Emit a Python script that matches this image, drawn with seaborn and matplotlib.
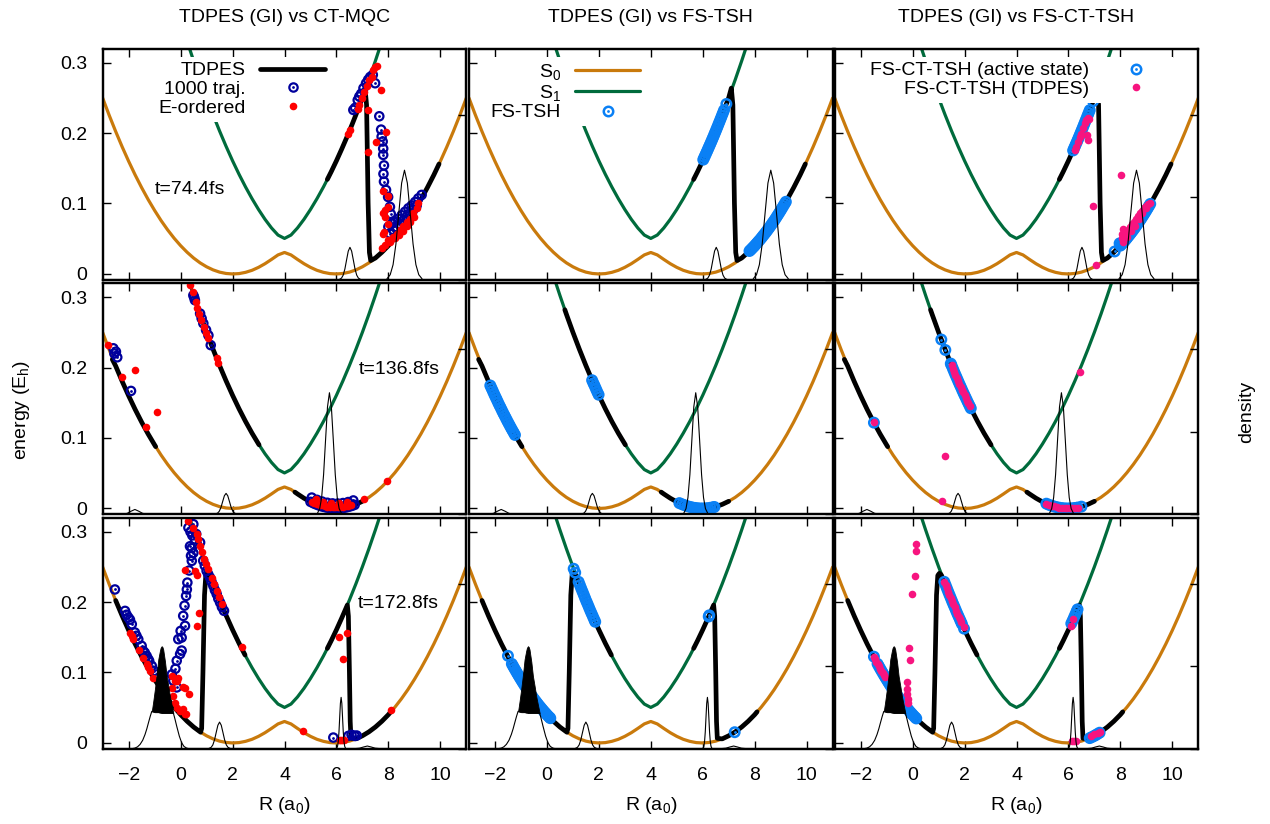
import matplotlib
matplotlib.use("Agg")
import matplotlib.pyplot as plt
import seaborn as sns
from matplotlib.lines import Line2D
from matplotlib.legend_handler import HandlerTuple

sns.set_style("ticks")
plt.rcParams['font.family'] = ['Liberation Sans', 'DejaVu Sans']
plt.rcParams['mathtext.default'] = 'regular'
for key in ['axes.edgecolor', 'xtick.color', 'ytick.color', 'text.color', 'axes.labelcolor']:
    plt.rcParams[key] = 'black'

# ---------------- potential energy surfaces (E_h) ----------------
S0_R = [-3.0, -2.75, -2.5, -2.25, -2.0, -1.75, -1.5, -1.25, -1.0, -0.75,
        -0.5, -0.25, 0.0, 0.25, 0.5, 0.75, 1.0, 1.25, 1.5, 1.75,
        2.0, 2.25, 2.5, 2.75, 3.0, 3.25, 3.5, 3.75, 4.0, 4.25,
        4.5, 4.75, 5.0, 5.25, 5.5, 5.75, 6.0, 6.25, 6.5, 6.75,
        7.0, 7.25, 7.5, 7.75, 8.0, 8.25, 8.5, 8.75, 9.0, 9.25,
        9.5, 9.75, 10.0, 10.25, 10.5, 10.75, 11.0]
S0_E = [0.2498, 0.2254, 0.2023, 0.1804, 0.1598, 0.1404, 0.1223, 0.1054, 0.0898, 0.0753,
        0.0622, 0.0503, 0.0397, 0.0303, 0.0221, 0.0152, 0.0096, 0.0052, 0.0020, 0.0001,
        -0.0006, -0.0001, 0.0017, 0.0046, 0.0088, 0.0140, 0.0201, 0.0265, 0.0300, 0.0265,
        0.0201, 0.0140, 0.0088, 0.0046, 0.0017, -0.0001, -0.0006, 0.0001, 0.0020, 0.0052,
        0.0096, 0.0152, 0.0221, 0.0303, 0.0397, 0.0503, 0.0622, 0.0753, 0.0898, 0.1054,
        0.1223, 0.1404, 0.1598, 0.1804, 0.2023, 0.2254, 0.2498]
S1_R = [0.0, 0.25, 0.5, 0.75, 1.0, 1.25, 1.5, 1.75, 2.0, 2.25,
        2.5, 2.75, 3.0, 3.25, 3.5, 3.75, 4.0, 4.25, 4.5, 4.75,
        5.0, 5.25, 5.5, 5.75, 6.0, 6.25, 6.5, 6.75, 7.0, 7.25,
        7.5, 7.75, 8.0]
S1_E = [0.3603, 0.3309, 0.3029, 0.2760, 0.2504, 0.2261, 0.2030, 0.1812, 0.1606, 0.1413,
        0.1233, 0.1066, 0.0912, 0.0772, 0.0649, 0.0548, 0.0500, 0.0548, 0.0649, 0.0772,
        0.0912, 0.1066, 0.1233, 0.1413, 0.1606, 0.1812, 0.2030, 0.2261, 0.2504, 0.2760,
        0.3029, 0.3309, 0.3603]

# ---------------- exact TDPES (gauge-invariant part) ----------------
tdpes_74_R = [5.65, 5.80, 6.00, 6.20, 6.40, 6.60, 6.80, 7.00, 7.10, 7.16,
              7.22, 7.27, 7.32, 7.50, 7.75, 8.00, 8.25, 8.50, 8.75, 9.00,
              9.25, 9.50, 9.75, 9.95]
tdpes_74_E = [0.1341, 0.1451, 0.1606, 0.1770, 0.1941, 0.2121, 0.2308, 0.2504, 0.2640, 0.2400,
              0.1000, 0.0300, 0.0185, 0.0221, 0.0303, 0.0397, 0.0503, 0.0622, 0.0753, 0.0898,
              0.1054, 0.1223, 0.1404, 0.1560]

tdpes_137a_R = [-2.63, -2.50, -2.25, -2.00, -1.75, -1.50, -1.25, -1.00, -0.96]
tdpes_137a_E = [0.2117, 0.2023, 0.1804, 0.1598, 0.1404, 0.1223, 0.1054, 0.0898, 0.0874]
tdpes_137b_R = [0.69, 0.75, 1.00, 1.25, 1.50, 1.75, 2.00, 2.25, 2.50, 2.75, 3.02]
tdpes_137b_E = [0.2824, 0.2760, 0.2504, 0.2261, 0.2030, 0.1812, 0.1606, 0.1413, 0.1233, 0.1066, 0.0900]
tdpes_137c_R = [4.40, 4.50, 4.75, 5.00, 5.25, 5.50, 5.75, 6.00, 6.25, 6.50, 6.75, 7.00]
tdpes_137c_E = [0.0227, 0.0201, 0.0140, 0.0088, 0.0046, 0.0017, -0.0001, -0.0006, 0.0001, 0.0020, 0.0052, 0.0096]

tdpes_173a_R = [-2.50, -2.25, -2.00, -1.75, -1.50, -1.25, -1.00, -0.75, -0.50, -0.25,
                0.00, 0.25, 0.50, 0.77, 0.81, 0.86, 0.92, 0.97, 1.03, 1.10,
                1.25, 1.50, 1.75, 2.00, 2.25, 2.48]
tdpes_173a_E = [0.2023, 0.1804, 0.1598, 0.1404, 0.1223, 0.1054, 0.0898, 0.0753, 0.0622, 0.0503,
                0.0397, 0.0303, 0.0221, 0.0147, 0.0200, 0.1000, 0.2100, 0.2380, 0.2410, 0.2390,
                0.2261, 0.2030, 0.1812, 0.1606, 0.1413, 0.1247]
tdpes_173b_R = [5.65, 5.80, 6.00, 6.20, 6.42, 6.46, 6.50, 6.53, 6.56, 6.75,
                7.00, 7.25, 7.50, 7.75, 8.00, 8.09]
tdpes_173b_E = [0.1341, 0.1451, 0.1606, 0.1770, 0.1958, 0.1800, 0.1000, 0.0300, 0.0060, 0.0052,
                0.0096, 0.0152, 0.0221, 0.0303, 0.0397, 0.0437]

# ---------------- nuclear densities (arb. units) ----------------
dens_74_R = [-3.0, 6.10, 6.13, 6.195, 6.26, 6.325, 6.39, 6.455, 6.52, 6.585,
             6.65, 6.715, 6.78, 6.845, 6.91, 6.94,
             7.93, 7.96, 8.07, 8.18, 8.29, 8.40, 8.51, 8.62, 8.73, 8.84,
             8.95, 9.06, 9.17, 9.28, 9.31, 11.0]
dens_74_D = [0.0, 0.0, 0.004, 0.017, 0.053, 0.127, 0.237, 0.344, 0.390, 0.344,
             0.237, 0.127, 0.053, 0.017, 0.004, 0.0,
             0.0, 0.015, 0.058, 0.179, 0.430, 0.804, 1.169, 1.325, 1.169, 0.804,
             0.430, 0.179, 0.058, 0.015, 0.0, 0.0]

dens_137_R = [-3.0, -2.21, -2.06, -1.91, -1.76, -1.61, -1.46, -1.31,
              1.33, 1.36, 1.425, 1.49, 1.555, 1.62, 1.685, 1.75, 1.815, 1.88,
              1.945, 2.01, 2.075, 2.14, 2.17,
              5.25, 5.28, 5.355, 5.43, 5.505, 5.58, 5.655, 5.73, 5.805, 5.88,
              5.955, 6.03, 6.105, 6.18, 6.21, 11.0]
dens_137_D = [0.0, 0.0006, 0.0074, 0.0334, 0.055, 0.0334, 0.0074, 0.0006,
              0.0, 0.003, 0.011, 0.034, 0.081, 0.152, 0.221, 0.250, 0.221, 0.152,
              0.081, 0.034, 0.011, 0.003, 0.0,
              0.0, 0.016, 0.065, 0.199, 0.477, 0.892, 1.297, 1.470, 1.297, 0.892,
              0.477, 0.199, 0.065, 0.016, 0.0, 0.0]

dens_173_R = [-3.0, -1.85, -1.76, -1.66, -1.56, -1.46, -1.37, -1.30, -1.24, -1.17, -1.11,
              -0.90, -0.70, -0.50, -0.28, -0.22, -0.15, -0.05, 0.04, 0.13, 0.23, 0.30,
              1.08, 1.11, 1.175, 1.24, 1.305, 1.37, 1.435, 1.50, 1.565, 1.63, 1.695,
              1.76, 1.825, 1.89, 1.92,
              6.0, 6.015, 6.0425, 6.07, 6.0975, 6.125, 6.1525, 6.18, 6.2075, 6.235,
              6.2625, 6.29, 6.3175, 6.345, 6.36,
              6.74, 6.89, 7.04, 7.19, 7.34, 7.49, 7.64, 11.0]
dens_173_D = [0.0, 0.0, 0.005, 0.02, 0.05, 0.10, 0.17, 0.24, 0.31, 0.39, 0.45,
              0.44, 0.43, 0.43, 0.43, 0.36, 0.27, 0.15, 0.07, 0.025, 0.005, 0.0,
              0.0, 0.004, 0.014, 0.043, 0.104, 0.194, 0.282, 0.320, 0.282, 0.194, 0.104,
              0.043, 0.014, 0.004, 0.0,
              0.0, 0.007, 0.027, 0.084, 0.201, 0.376, 0.547, 0.620, 0.547, 0.376,
              0.201, 0.084, 0.027, 0.007, 0.0,
              0.0, 0.004, 0.018, 0.030, 0.018, 0.004, 0.0, 0.0]
# fast interference oscillations of the left packet at t=172.8 fs (band between envelopes)
packet_R = [-1.11, -1.05, -0.99, -0.92, -0.86, -0.80, -0.77, -0.73, -0.70, -0.67,
            -0.60, -0.54, -0.47, -0.41, -0.34, -0.28]
packet_lo = [0.45, 0.445, 0.44, 0.44, 0.44, 0.435, 0.435, 0.43, 0.43, 0.43,
             0.43, 0.43, 0.43, 0.43, 0.43, 0.43]
packet_hi = [0.45, 0.58, 0.72, 0.90, 1.08, 1.18, 1.22, 1.24, 1.23, 1.20,
             1.05, 0.88, 0.75, 0.63, 0.52, 0.43]

# ---------------- trajectories, t = 74.4 fs ----------------
traj_74_R = [6.65, 6.72, 6.82, 6.88, 6.95, 7.04, 7.14, 7.22, 7.30, 7.40,
             7.49, 7.65, 7.72, 7.74, 7.78, 7.80, 7.80, 7.83, 7.81, 7.83,
             7.91, 7.99, 8.06, 8.09, 8.19, 8.00, 8.13, 8.26, 8.39, 8.51,
             8.64, 8.77, 8.90, 9.03, 9.15, 9.28, 8.06, 8.19, 8.32, 8.45,
             8.58, 8.71, 8.83, 8.96, 9.09]
traj_74_E = [0.233, 0.236, 0.247, 0.252, 0.256, 0.264, 0.271, 0.276, 0.280, 0.283,
             0.271, 0.224, 0.205, 0.195, 0.188, 0.178, 0.169, 0.154, 0.142, 0.131,
             0.119, 0.109, 0.095, 0.085, 0.074, 0.0665, 0.071, 0.074, 0.078, 0.083,
             0.088, 0.093, 0.097, 0.102, 0.107, 0.112, 0.057, 0.062, 0.066, 0.070,
             0.076, 0.081, 0.086, 0.091, 0.097]
eord_74_R = [7.49, 7.55, 7.42, 7.36, 7.27, 7.17, 7.05, 6.97, 6.88, 6.84,
             6.52, 6.46, 7.72, 7.23, 7.91, 7.53, 7.23, 7.80, 8.00, 8.00,
             7.87, 7.80, 7.87, 8.00, 7.78, 7.83, 8.00, 7.87, 7.74, 8.19,
             8.32, 8.45, 8.58, 8.71, 8.83, 8.96, 9.11, 9.15, 8.06, 8.25,
             8.40, 8.55, 8.70, 8.85, 9.00]
eord_74_E = [0.294, 0.296, 0.290, 0.280, 0.275, 0.267, 0.258, 0.250, 0.240, 0.235,
             0.204, 0.199, 0.262, 0.233, 0.202, 0.188, 0.173, 0.118, 0.110, 0.095,
             0.090, 0.0855, 0.080, 0.071, 0.057, 0.059, 0.0475, 0.040, 0.036, 0.052,
             0.057, 0.062, 0.067, 0.074, 0.078, 0.086, 0.093, 0.100, 0.045, 0.050,
             0.055, 0.061, 0.067, 0.073, 0.080]
fstsh_74_R = [6.02, 6.06, 6.10, 6.14, 6.18, 6.22, 6.26, 6.30, 6.34, 6.38,
              6.42, 6.46, 6.50, 6.54, 6.58, 6.62, 6.66, 6.70, 6.74, 6.78,
              6.82, 6.91,
              7.80, 7.85, 7.90, 7.95, 8.00, 8.05, 8.10, 8.15, 8.20, 8.25,
              8.30, 8.35, 8.40, 8.45, 8.50, 8.55, 8.60, 8.65, 8.70, 8.75,
              8.80, 8.85, 8.90, 8.95, 9.00, 9.05, 9.10, 9.15, 9.20]
fstsh_74_E = [0.1622, 0.1655, 0.1687, 0.1720, 0.1753, 0.1787, 0.1820, 0.1854, 0.1888, 0.1923,
              0.1958, 0.1994, 0.2030, 0.2066, 0.2103, 0.2140, 0.2177, 0.2214, 0.2252, 0.2289,
              0.2327, 0.2415,
              0.0321, 0.0339, 0.0358, 0.0377, 0.0397, 0.0418, 0.0439, 0.0460, 0.0481, 0.0503,
              0.0527, 0.0550, 0.0573, 0.0597, 0.0622, 0.0647, 0.0673, 0.0700, 0.0727, 0.0753,
              0.0781, 0.0810, 0.0839, 0.0868, 0.0898, 0.0929, 0.0960, 0.0991, 0.1022]
ctsh_act_74_R = [6.18, 6.22, 6.26, 6.30, 6.34, 6.38, 6.42, 6.46, 6.50, 6.54,
                 6.58, 6.62, 6.66, 6.70, 6.74, 6.78, 6.82, 6.95,
                 7.78, 7.97, 8.00, 8.05, 8.10, 8.15, 8.20, 8.25, 8.30, 8.35,
                 8.40, 8.45, 8.50, 8.55, 8.60, 8.65, 8.70, 8.75, 8.80, 8.85,
                 8.90, 8.95, 9.00, 9.05, 9.10, 9.15]
ctsh_act_74_E = [0.1753, 0.1787, 0.1820, 0.1854, 0.1888, 0.1923, 0.1958, 0.1994, 0.2030, 0.2066,
                 0.2103, 0.2140, 0.2177, 0.2214, 0.2252, 0.2289, 0.2327, 0.2454,
                 0.0314, 0.0430, 0.0397, 0.0418, 0.0439, 0.0460, 0.0481, 0.0503, 0.0527, 0.0550,
                 0.0573, 0.0597, 0.0622, 0.0647, 0.0673, 0.0700, 0.0727, 0.0753, 0.0781, 0.0810,
                 0.0839, 0.0868, 0.0898, 0.0929, 0.0960, 0.0991]
ctsh_tdpes_74_R = [6.24, 6.30, 6.37, 6.43, 6.50, 6.56, 6.63, 6.69, 6.75, 6.75,
                   6.71, 6.80, 8.04, 6.95, 8.10, 8.05, 7.05,
                   8.05, 8.12, 8.20, 8.28, 8.36, 8.44, 8.52, 8.60, 8.68, 8.76,
                   8.84, 8.92, 9.00, 9.08, 9.14,
                   8.10, 8.25, 8.40, 8.55, 8.70, 8.85, 9.00]
ctsh_tdpes_74_E = [0.176, 0.180, 0.1876, 0.1947, 0.1994, 0.2066, 0.2137, 0.2184, 0.2222, 0.190,
                   0.197, 0.2208, 0.140, 0.096, 0.064, 0.057, 0.012,
                   0.050, 0.054, 0.058, 0.062, 0.066, 0.070, 0.0735, 0.0775, 0.0815, 0.0855,
                   0.0895, 0.0935, 0.0965, 0.099, 0.1005,
                   0.045, 0.052, 0.060, 0.068, 0.077, 0.086, 0.093]

# ---------------- trajectories, t = 136.8 fs ----------------
traj_137_R = [-2.59, -2.49, -2.44, -2.55, -1.91, 0.49, 0.52, 0.55, 0.75, 0.81,
              0.875, 0.98, 1.07, 1.16,
              5.0, 5.1, 5.2, 5.3, 5.4, 5.5, 5.6, 5.7, 5.8, 5.9,
              6.0, 6.1, 6.2, 6.3, 6.4, 6.5, 6.6, 6.7,
              5.05, 5.25, 5.45, 5.65, 5.85, 6.05, 6.25, 6.45, 6.65]
traj_137_E = [0.2275, 0.2227, 0.2147, 0.220, 0.1668, 0.303, 0.300, 0.296, 0.277, 0.270,
              0.263, 0.2536, 0.246, 0.232,
              0.0088, 0.0070, 0.0054, 0.0040, 0.0027, 0.0017, 0.0008, 0.0002, -0.0003, -0.0006,
              -0.0006, -0.0005, -0.0002, 0.0004, 0.0011, 0.0020, 0.0031, 0.0045,
              0.0149, 0.0117, 0.0092, 0.0075, 0.0066, 0.0064, 0.0071, 0.0085, 0.0108]
eord_137_R = [-2.79, -2.27, -1.76, -1.33, -0.92, 0.36, 0.46, 0.59, 0.65, 0.72,
              0.80, 0.90, 0.98, 1.07, 1.39, 1.45, 7.06, 7.94,
              5.05, 5.15, 5.25, 5.35, 5.45, 5.55, 5.65, 5.75, 5.85, 5.95,
              6.05, 6.15, 6.25, 6.35, 6.45, 6.55,
              5.2, 5.5, 5.8, 6.1, 6.4]
eord_137_E = [0.232, 0.187, 0.197, 0.116, 0.137, 0.3175, 0.307, 0.294, 0.285, 0.277,
              0.268, 0.258, 0.249, 0.242, 0.213, 0.207, 0.0128, 0.038,
              0.0092, 0.0075, 0.0061, 0.0048, 0.0037, 0.0027, 0.0020, 0.0014, 0.0011, 0.0009,
              0.0009, 0.0011, 0.0016, 0.0023, 0.0033, 0.0043,
              0.0124, 0.0087, 0.0067, 0.0065, 0.0081]
fstsh_137_R = [-2.18, -2.13, -2.08, -2.03, -1.98, -1.93, -1.88, -1.83, -1.78, -1.73,
               -1.68, -1.63, -1.58, -1.53, -1.48, -1.43, -1.38, -1.33, -1.28, -1.23,
               1.74, 1.79, 1.84, 1.89, 1.94, 1.99,
               5.1, 5.2, 5.3, 5.4, 5.5, 5.6, 5.7, 5.8, 5.9, 6.0,
               6.1, 6.2, 6.3, 6.4, 6.45]
fstsh_137_E = [0.1745, 0.1704, 0.1663, 0.1622, 0.1582, 0.1543, 0.1503, 0.1465, 0.1427, 0.1389,
               0.1352, 0.1316, 0.1280, 0.1244, 0.1209, 0.1174, 0.1140, 0.1107, 0.1074, 0.1041,
               0.1820, 0.1778, 0.1737, 0.1695, 0.1654, 0.1614,
               0.0070, 0.0054, 0.0040, 0.0027, 0.0017, 0.0008, 0.0002, -0.0003, -0.0006, -0.0006,
               -0.0005, -0.0002, 0.0004, 0.0011, 0.0015]
ctsh_act_137_R = [-1.49, 1.105, 1.26, 1.47,
                  1.50, 1.55, 1.60, 1.65, 1.70, 1.75, 1.80, 1.85, 1.90, 1.95,
                  2.00, 2.05, 2.10, 2.15, 2.20, 2.24,
                  5.15, 5.25, 5.35, 5.45, 5.55, 5.65, 5.75, 5.85, 5.95, 6.05,
                  6.15, 6.25, 6.35, 6.50]
ctsh_act_137_E = [0.1216, 0.2400, 0.2251, 0.2057,
                  0.2030, 0.1985, 0.1941, 0.1897, 0.1854, 0.1812, 0.1770, 0.1728, 0.1687, 0.1646,
                  0.1606, 0.1567, 0.1528, 0.1489, 0.1451, 0.1421,
                  0.0062, 0.0046, 0.0033, 0.0022, 0.0012, 0.0005, -0.0001, -0.0005, -0.0006, -0.0006,
                  -0.0004, 0.0001, 0.0007, 0.0020]
ctsh_tdpes_137_R = [-1.49, 1.26, 1.13, 6.46,
                    1.50, 1.55, 1.60, 1.65, 1.70, 1.75, 1.80, 1.85, 1.90, 1.95,
                    2.00, 2.05, 2.10, 2.15, 2.20,
                    5.15, 5.25, 5.35, 5.45, 5.55, 5.65, 5.75, 5.85, 5.95, 6.05,
                    6.15, 6.25, 6.35]
ctsh_tdpes_137_E = [0.123, 0.0735, 0.0095, 0.194,
                    0.2030, 0.1985, 0.1941, 0.1897, 0.1854, 0.1812, 0.1770, 0.1728, 0.1687, 0.1646,
                    0.1606, 0.1567, 0.1528, 0.1489, 0.1451,
                    0.0062, 0.0046, 0.0033, 0.0022, 0.0012, 0.0005, -0.0001, -0.0005, -0.0006, -0.0006,
                    -0.0004, 0.0001, 0.0007]

# ---------------- trajectories, t = 172.8 fs ----------------
traj_173_R = [-2.53,
              -2.14, -2.08, -2.01, -1.95, -1.88, -1.76, -1.70, -1.63, -1.50, -1.44,
              -1.38, -1.31, -1.25, -1.21, -1.11, -1.02, -0.92,
              -0.34, -0.28, -0.20, -0.15, -0.15, -0.02, 0.04, -0.09, 0.04, 0.00,
              0.17, 0.10, 0.15, 0.21, 0.24, 0.26, 0.33, 0.40, 0.43, 0.49,
              0.36, 0.30, 0.55, 0.43,
              0.38, 0.45, 0.49, 0.60, 0.75, 0.87, 0.93, 1.00, 1.06, 1.13,
              1.19, 1.26, 1.32, 1.39, 1.45, 1.52, 1.59, 1.67,
              5.88, 6.46, 6.58, 6.70, 6.78]
traj_173_E = [0.218,
              0.1875, 0.182, 0.178, 0.175, 0.1685, 0.1567, 0.152, 0.147, 0.1377, 0.1305,
              0.128, 0.1235, 0.119, 0.1163, 0.1092, 0.102, 0.097,
              0.097, 0.088, 0.105, 0.0785, 0.1165, 0.126, 0.131, 0.1472, 0.1495, 0.159,
              0.1662, 0.1804, 0.195, 0.2088, 0.218, 0.2278, 0.245, 0.266, 0.2587, 0.270,
              0.2795, 0.306, 0.2895, 0.277,
              0.300, 0.295, 0.311, 0.297, 0.285, 0.259, 0.252, 0.2445, 0.240, 0.235,
              0.229, 0.2232, 0.217, 0.2113, 0.205, 0.1994, 0.193, 0.1876,
              0.0071, 0.0095, 0.011, 0.0095, 0.010]
eord_173_R = [0.30, 0.49, 0.62, 0.68, 0.75, 0.81, 0.90, 0.98, 1.07, 1.20,
              1.29, 1.39, 1.49, 1.58, 2.35, 0.17, 0.55, 0.62, 0.71, 0.64,
              -1.95, -1.88, -1.82, -1.60, -1.44, -1.31, -1.25, -1.18, -1.07,
              -0.34, -0.22, -0.09, 0.08, 0.34, -0.34, -0.28, -0.22, -0.12, -0.02,
              0.17, 0.10, 0.21, 0.17, -0.13,
              4.72, 6.11, 6.40, 6.27, 6.15, 6.22, 6.30, 8.10]
eord_173_E = [0.3157, 0.306, 0.2968, 0.2897, 0.280, 0.2708, 0.2613, 0.2542, 0.247, 0.235,
              0.2258, 0.2163, 0.2068, 0.1973, 0.1357, 0.2454, 0.245, 0.238, 0.185, 0.1662,
              0.1567, 0.152, 0.147, 0.132, 0.1211, 0.1116, 0.107, 0.102, 0.0926,
              0.095, 0.0878, 0.0926, 0.0795, 0.069, 0.078, 0.066, 0.0565, 0.0494, 0.0447,
              0.041, 0.0475, 0.040, 0.078, 0.088,
              0.0166, 0.1496, 0.1567, 0.1187, 0.004, 0.003, 0.004, 0.046]
fstsh_173_R = [-1.50,
               -1.35, -1.30, -1.25, -1.20, -1.15, -1.10, -1.05, -1.00, -0.95, -0.90,
               -0.85, -0.80, -0.75, -0.70, -0.65, -0.60, -0.55, -0.50, -0.45, -0.40,
               -0.35, -0.30, -0.25, -0.20, -0.15, -0.10, -0.05, 0.00, 0.05, 0.10, 0.13,
               1.03, 1.09, 1.22, 1.27, 1.32, 1.37, 1.42, 1.47, 1.52, 1.57,
               1.62, 1.67, 1.72, 1.77, 1.82, 1.86,
               6.23, 6.25, 7.23]
fstsh_173_E = [0.1235,
               0.1120, 0.1087, 0.1054, 0.1022, 0.0990, 0.0959, 0.0928, 0.0898, 0.0868, 0.0838,
               0.0809, 0.0781, 0.0753, 0.0726, 0.0699, 0.0673, 0.0647, 0.0622, 0.0597, 0.0573,
               0.0549, 0.0526, 0.0503, 0.0481, 0.0459, 0.0438, 0.0417, 0.0397, 0.0377, 0.0358, 0.0347,
               0.2475, 0.2420, 0.2289, 0.2242, 0.2195, 0.2149, 0.2103, 0.2057, 0.2012, 0.1968,
               0.1924, 0.1880, 0.1837, 0.1795, 0.1753, 0.1720,
               0.1795, 0.1812, 0.0147]
ctsh_act_173_R = [-1.49,
                  -1.35, -1.30, -1.25, -1.20, -1.15, -1.10, -1.05, -1.00, -0.95, -0.90,
                  -0.85, -0.80, -0.75, -0.70, -0.65, -0.60, -0.55, -0.50, -0.45, -0.40,
                  -0.35, -0.30, -0.25, -0.20, -0.15, -0.10, -0.05, 0.00, 0.05, 0.10, 0.14,
                  1.22, 1.27, 1.32, 1.37, 1.42, 1.47, 1.52, 1.57, 1.62, 1.67,
                  1.72, 1.77, 1.82, 1.86, 1.90, 1.98,
                  6.11, 6.16, 6.21, 6.26, 6.31, 6.35,
                  6.82, 6.90, 6.98, 7.05, 7.12, 7.20]
ctsh_act_173_E = [0.1223,
                  0.1120, 0.1087, 0.1054, 0.1022, 0.0990, 0.0959, 0.0928, 0.0898, 0.0868, 0.0838,
                  0.0809, 0.0781, 0.0753, 0.0726, 0.0699, 0.0673, 0.0647, 0.0622, 0.0597, 0.0573,
                  0.0549, 0.0526, 0.0503, 0.0481, 0.0459, 0.0438, 0.0417, 0.0397, 0.0377, 0.0358, 0.0343,
                  0.2289, 0.2242, 0.2195, 0.2149, 0.2103, 0.2057, 0.2012, 0.1968, 0.1924, 0.1880,
                  0.1837, 0.1795, 0.1753, 0.1720, 0.1687, 0.1622,
                  0.1695, 0.1736, 0.1778, 0.1820, 0.1863, 0.1897,
                  0.0063, 0.0077, 0.0092, 0.0106, 0.0122, 0.0140]
ctsh_tdpes_173_R = [0.14, 0.14, 0.10, -0.01, -0.14, -0.10, -0.21, -0.23, -0.21, -0.19, -0.16,
                    -1.49, -1.45, -1.40, -1.35, -1.30, -1.25, -1.20, -1.15, -1.10, -1.05,
                    1.22, 1.27, 1.32, 1.37, 1.42, 1.47, 1.52, 1.57, 1.62, 1.67,
                    1.72, 1.77, 1.82, 1.85, 1.98,
                    6.18, 6.09, 6.12, 6.20, 6.28, 6.88, 7.00, 7.12, 7.20]
ctsh_tdpes_173_E = [0.2825, 0.273, 0.2374, 0.2113, 0.1353, 0.1178, 0.0864, 0.076, 0.0689, 0.0627, 0.057,
                    0.1223, 0.1188, 0.1154, 0.1120, 0.1087, 0.1054, 0.1022, 0.0990, 0.0959, 0.0928,
                    0.2289, 0.2242, 0.2195, 0.2149, 0.2103, 0.2057, 0.2012, 0.1968, 0.1924, 0.1880,
                    0.1837, 0.1795, 0.1753, 0.172, 0.164,
                    0.176, 0.166, 0.0024, 0.0024, 0.0024, 0.0095, 0.012, 0.013, 0.015]

col_titles = ["TDPES (GI) vs CT-MQC", "TDPES (GI) vs FS-TSH", "TDPES (GI) vs FS-CT-TSH"]
time_labels = ["t=74.4fs", "t=136.8fs", "t=172.8fs"]
time_label_pos = [(-0.99, 0.119), (6.84, 0.197), (6.82, 0.198)]
energy_ticks = [0.0, 0.1, 0.2, 0.3]
energy_ticklabels = ["0", "0.1", "0.2", "0.3"]
r_ticks = [-2, 0, 2, 4, 6, 8, 10]

# ---------------- styling ----------------
C_S0 = "#c97a0c"
C_S1 = "#006b3c"
C_TRAJ = "#00009c"
C_EORD = "#ff0000"
C_FS = "#0a80f5"
C_PINK = "#f7147f"
FS = 14

W, H = 1270, 824
fig = plt.figure(figsize=(W / 100, H / 100), dpi=100)
col_left = [102.7, 469.0, 834.7]
row_top = [48.5, 283.0, 517.5]
pw, ph = 363.6, 231.0


def rings(ax, R, E, color, s, lw):
    sns.scatterplot(x=R, y=E, ax=ax, marker="o", s=s, facecolor="none",
                    edgecolor=color, linewidth=lw, zorder=4, legend=False)
    sns.scatterplot(x=R, y=E, ax=ax, marker="o", s=4, color=color,
                    linewidth=0, zorder=4.1, legend=False)


def dots(ax, R, E, color):
    sns.scatterplot(x=R, y=E, ax=ax, marker="o", s=30, color=color,
                    linewidth=0, zorder=4.2, legend=False)


tdpes_rows = [
    [(tdpes_74_R, tdpes_74_E)],
    [(tdpes_137a_R, tdpes_137a_E), (tdpes_137b_R, tdpes_137b_E), (tdpes_137c_R, tdpes_137c_E)],
    [(tdpes_173a_R, tdpes_173a_E), (tdpes_173b_R, tdpes_173b_E)],
]
dens_rows = [(dens_74_R, dens_74_D), (dens_137_R, dens_137_D), (dens_173_R, dens_173_D)]

traj_rows = [(traj_74_R, traj_74_E), (traj_137_R, traj_137_E), (traj_173_R, traj_173_E)]
eord_rows = [(eord_74_R, eord_74_E), (eord_137_R, eord_137_E), (eord_173_R, eord_173_E)]
fstsh_rows = [(fstsh_74_R, fstsh_74_E), (fstsh_137_R, fstsh_137_E), (fstsh_173_R, fstsh_173_E)]
act_rows = [(ctsh_act_74_R, ctsh_act_74_E), (ctsh_act_137_R, ctsh_act_137_E),
            (ctsh_act_173_R, ctsh_act_173_E)]
ctp_rows = [(ctsh_tdpes_74_R, ctsh_tdpes_74_E), (ctsh_tdpes_137_R, ctsh_tdpes_137_E),
            (ctsh_tdpes_173_R, ctsh_tdpes_173_E)]

axes = {}
for row in range(3):
    for col in range(3):
        l, t = col_left[col], row_top[row]
        ax = fig.add_axes([l / W, 1 - (t + ph) / H, pw / W, ph / H])
        axes[(row, col)] = ax

        sns.lineplot(x=S0_R, y=S0_E, ax=ax, color=C_S0, linewidth=2.3,
                     estimator=None, sort=False, zorder=2)
        sns.lineplot(x=S1_R, y=S1_E, ax=ax, color=C_S1, linewidth=2.3,
                     estimator=None, sort=False, zorder=2)
        for segR, segE in tdpes_rows[row]:
            sns.lineplot(x=segR, y=segE, ax=ax, color="black", linewidth=3.4,
                         estimator=None, sort=False, zorder=3)

        if col == 0:
            rings(ax, *traj_rows[row], C_TRAJ, 36, 1.6)
            dots(ax, *eord_rows[row], C_EORD)
        elif col == 1:
            rings(ax, *fstsh_rows[row], C_FS, 46, 1.8)
        else:
            rings(ax, *act_rows[row], C_FS, 46, 1.8)
            dots(ax, *ctp_rows[row], C_PINK)

        ax.set_xlim(-3, 11)
        ax.set_ylim(-0.0085, 0.3205)
        ax.set_xticks(r_ticks)
        ax.set_yticks(energy_ticks, energy_ticklabels)
        ax.set_xlabel("")
        ax.set_ylabel("")
        ax.tick_params(axis="x", direction="in", top=True, bottom=True, length=6,
                       width=1.0, labelsize=FS, pad=13, labelbottom=(row == 2))
        ax.tick_params(axis="y", direction="in", left=True, right=False, length=6,
                       width=1.0, labelsize=FS, pad=11, labelleft=(col == 0))
        for sp in ax.spines.values():
            sp.set_linewidth(1.6)
            sp.set_color("black")
            sp.set_visible(True)

        # nuclear density on its own scale
        dax = ax.twinx()
        dR, dD = dens_rows[row]
        sns.lineplot(x=dR, y=dD, ax=dax, color="black", linewidth=0.8,
                     estimator=None, sort=False)
        if row == 2:
            dax.fill_between(packet_R, packet_lo, packet_hi, color="black", linewidth=0.6)
        dax.set_ylim(0, 2.8)
        dax.set_yticks([0, 1, 2])
        dax.set_ylabel("")
        dax.tick_params(axis="y", direction="in", right=True, left=False, length=6,
                        width=1.0, labelright=False)
        for sp in dax.spines.values():
            sp.set_linewidth(1.6)
            sp.set_color("black")

        if col == 0:
            tx, ty = time_label_pos[row]
            ax.text(tx, ty, time_labels[row], fontsize=FS, ha="left", va="center", zorder=6)


def ring_handle(color, ms, mew):
    return (Line2D([], [], ls="none", marker="o", ms=ms, mfc="none", mec=color, mew=mew),
            Line2D([], [], ls="none", marker="o", ms=2.0, color=color, mew=0))


legend_kw = dict(markerfirst=False, frameon=True, facecolor="white", edgecolor="none",
                 framealpha=1.0, fancybox=False, fontsize=FS, handlelength=3.35,
                 handletextpad=0.72, labelspacing=0.05, borderpad=0.25, borderaxespad=0,
                 loc="upper right", bbox_transform=fig.transFigure,
                 handler_map={tuple: HandlerTuple(ndivide=1, pad=0)})

axes[(0, 0)].legend(
    [Line2D([], [], color="black", lw=3.4), ring_handle(C_TRAJ, 6.0, 1.6),
     Line2D([], [], ls="none", marker="o", ms=5.5, color=C_EORD, mew=0)],
    ["TDPES", "1000 traj.", "E-ordered"],
    bbox_to_anchor=(330 / W, 1 - 57 / H), **legend_kw)
axes[(0, 1)].legend(
    [Line2D([], [], color=C_S0, lw=2.3), Line2D([], [], color=C_S1, lw=2.3),
     ring_handle(C_FS, 6.8, 1.8)],
    ["S$_0$", "S$_1$", "FS-TSH"],
    bbox_to_anchor=(645 / W, 1 - 57 / H), **legend_kw)
axes[(0, 2)].legend(
    [ring_handle(C_FS, 6.8, 1.8),
     Line2D([], [], ls="none", marker="o", ms=5.5, color=C_PINK, mew=0)],
    ["FS-CT-TSH (active state)", "FS-CT-TSH (TDPES)"],
    bbox_to_anchor=(1173 / W, 1 - 57 / H), **legend_kw)

for col in range(3):
    cx = (col_left[col] + pw / 2) / W
    fig.text(cx, 1 - 18 / H, col_titles[col], fontsize=FS, ha="center", va="center")
    fig.text(cx, 1 - 806 / H, "R (a$_0$)", fontsize=FS, ha="center", va="center")
fig.text(22 / W, 1 - 410 / H, "energy (E$_h$)", fontsize=FS, rotation=90,
         ha="center", va="center")
fig.text(1247 / W, 1 - 412 / H, "density", fontsize=FS, rotation=90,
         ha="center", va="center")

fig.savefig("out.png", dpi=100)
